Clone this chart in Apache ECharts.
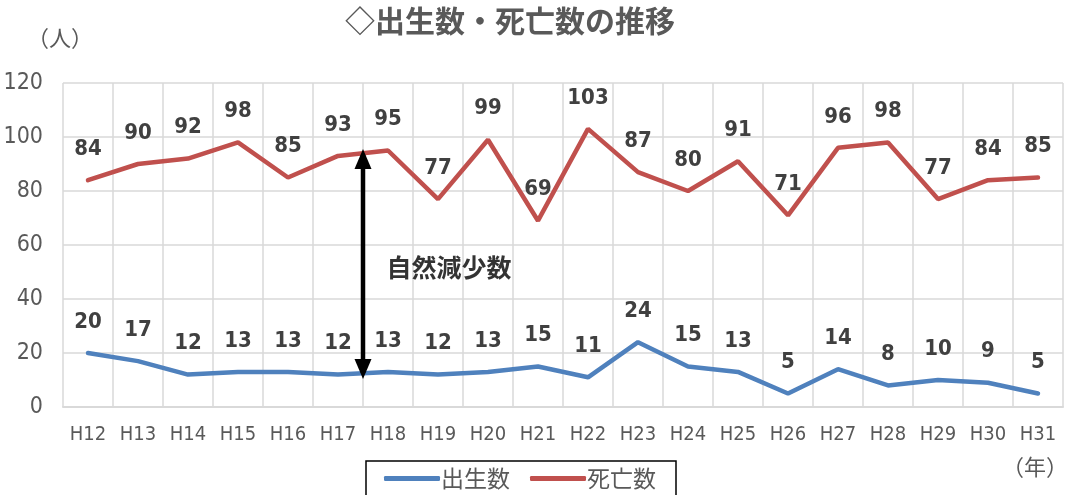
<!DOCTYPE html>
<html>
<head>
<meta charset="utf-8">
<script src="https://cdn.jsdelivr.net/npm/echarts@6/dist/echarts.min.js"></script>
<style>
  html, body { margin: 0; padding: 0; background: #fff; }
  #main { width: 1067px; height: 495px; }
</style>
</head>
<body>
<div id="main"></div>
<script>
// 年度
var years = ['H12','H13','H14','H15','H16','H17','H18','H19','H20','H21','H22','H23','H24','H25','H26','H27','H28','H29','H30','H31'];
// 出生数
var births = [20,17,12,13,13,12,13,12,13,15,11,24,15,13,5,14,8,10,9,5];
// 死亡数
var deaths = [84,90,92,98,85,93,95,77,99,69,103,87,80,91,71,96,98,77,84,85];
// 自然減少数の矢印（H17とH18の間）
var gapArrow = [[5.5, 12.6], [5.5, 93.3]];
var gapLabel = [[7.22, 51.5]];

var narrow = '"Liberation Sans Narrow", "DejaVu Sans Condensed", sans-serif';
var jp = '"Noto Sans CJK JP", sans-serif';

var chart = echarts.init(document.getElementById('main'));
chart.setOption({
  animation: false,
  title: {
    text: '◇出生数・死亡数の推移',
    left: 505, top: 1, textAlign: 'center',
    textStyle: { fontFamily: jp, fontSize: 30, fontWeight: 'bold', color: '#595959' }
  },
  legend: {
    data: ['出生数', '死亡数'],
    left: 366, top: 461,
    padding: [6, 20, 14, 18],
    itemGap: 20, itemWidth: 56, itemHeight: 5,
    borderColor: '#000', borderWidth: 1.5,
    icon: 'roundRect',
    textStyle: { fontFamily: jp, fontSize: 23, color: '#595959', padding: [0, 0, 0, -4] }
  },
  graphic: [
    { type: 'text', left: 27, top: 27, style: { text: '（人）', font: '22px ' + jp, fill: '#595959' } },
    { type: 'text', left: 1002, top: 456, style: { text: '（年）', font: '22px ' + jp, fill: '#595959' } }
  ],
  grid: { left: 63, right: 4, top: 83, bottom: 88 },
  xAxis: [{
    type: 'category', data: years, boundaryGap: true,
    axisLine: { lineStyle: { color: '#d9d9d9', width: 2 } },
    axisTick: { show: false },
    splitLine: { show: true, interval: 0, lineStyle: { color: '#d9d9d9', width: 1.5 } },
    axisLabel: { interval: 0, fontFamily: narrow, fontSize: 20, color: '#595959', margin: 18 }
  }, {
    type: 'value', min: -0.5, max: 19.5, show: false
  }],
  yAxis: {
    type: 'value', min: 0, max: 120, interval: 20,
    axisLine: { show: false }, axisTick: { show: false },
    splitLine: { lineStyle: { color: '#d9d9d9', width: 1.5 } },
    axisLabel: { fontFamily: narrow, fontSize: 23, color: '#595959', margin: 20 }
  },
  series: [{
    name: '出生数', type: 'line', data: births,
    symbol: 'circle', symbolSize: 0, showSymbol: true,
    lineStyle: { width: 4.5, color: '#4f81bd', cap: 'round' },
    itemStyle: { color: '#4f81bd' },
    label: { show: true, position: 'top', distance: 20, fontFamily: narrow, fontSize: 22, fontWeight: 'bold', color: '#404040' },
    labelLayout: { hideOverlap: false },
    z: 3
  }, {
    name: '死亡数', type: 'line', data: deaths,
    symbol: 'circle', symbolSize: 0, showSymbol: true,
    lineStyle: { width: 4.5, color: '#c0504d', cap: 'round' },
    itemStyle: { color: '#c0504d' },
    label: { show: true, position: 'top', distance: 20, fontFamily: narrow, fontSize: 22, fontWeight: 'bold', color: '#404040' },
    labelLayout: { hideOverlap: false },
    z: 3
  }, {
    type: 'line', xAxisIndex: 1, data: gapArrow,
    symbol: 'none', lineStyle: { width: 4.5, color: '#000' },
    silent: true, z: 5,
    markPoint: {
      symbol: 'triangle', symbolSize: [17, 20], silent: true,
      itemStyle: { color: '#000' }, label: { show: false },
      data: [
        { coord: gapArrow[1], symbolRotate: 0, symbolOffset: [0, 4] },
        { coord: gapArrow[0], symbolRotate: 180, symbolOffset: [0, -4] }
      ]
    }
  }, {
    type: 'scatter', xAxisIndex: 1, data: gapLabel,
    symbolSize: 0, silent: true,
    label: { show: true, position: 'inside', formatter: '自然減少数', fontFamily: jp, fontSize: 25, fontWeight: 'bold', color: '#000' }
  }]
});
</script>
</body>
</html>
